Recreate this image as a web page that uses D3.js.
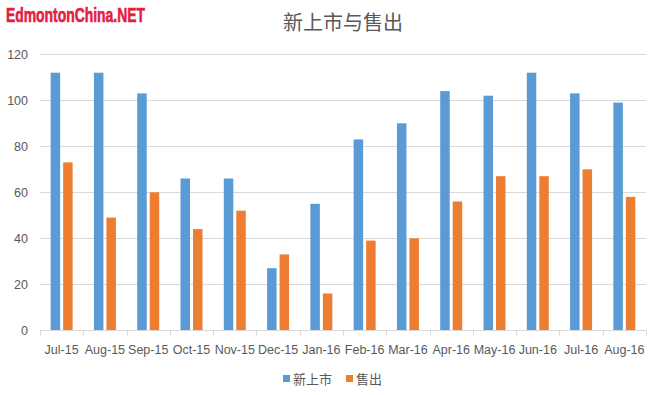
<!DOCTYPE html>
<html>
<head>
<meta charset="utf-8">
<script src="https://cdn.jsdelivr.net/npm/d3@7"></script>
<style>
  body { margin: 0; background: #fff; }
  text { font-family: "Liberation Sans", "Noto Sans CJK SC", sans-serif; }
</style>
</head>
<body>
<div id="chart"></div>
<script>
// data
var months   = ["Jul-15","Aug-15","Sep-15","Oct-15","Nov-15","Dec-15","Jan-16","Feb-16","Mar-16","Apr-16","May-16","Jun-16","Jul-16","Aug-16"];
var newList  = [112,112,103,66,66,27,55,83,90,104,102,112,103,99];
var sold     = [73,49,60,44,52,33,16,39,40,56,67,67,70,58];
var seriesNames = ["新上市","售出"];
var colors   = ["#5b9bd5","#ed7d31"];
var yTicks   = [0,20,40,60,80,100,120];

var w = 653, h = 395,
	plotLeft = 40, plotRight = 646, plotTop = 54.3, plotBottom = 330.3;

var svg = d3.select("#chart").append("svg")
	.attr("width", w)
	.attr("height", h);

// watermark
svg.append("text")
	.attr("x", 6).attr("y", 22)
	.attr("textLength", 139).attr("lengthAdjust", "spacingAndGlyphs")
	.style("font-family", "'Liberation Sans Narrow', 'Liberation Sans', sans-serif")
	.style("font-weight", "bold")
	.style("font-size", "20px")
	.style("fill", "#e3203f")
	.style("stroke", "#e3203f")
	.style("stroke-width", 0.6)
	.text("EdmontonChina.NET");

// title
svg.append("text")
	.attr("x", 343).attr("y", 30)
	.attr("text-anchor", "middle")
	.style("font-family", "'Noto Sans CJK SC', sans-serif")
	.style("font-size", "20px")
	.style("fill", "#595959")
	.text("新上市与售出");

var y = d3.scaleLinear().domain([0,120]).range([plotBottom, plotTop]);

var x0 = d3.scaleBand()
	.domain(months)
	.range([plotLeft, plotRight])
	.paddingInner(0.492)
	.paddingOuter(0.246);

var x1 = d3.scaleBand()
	.domain([0,1])
	.range([0, x0.bandwidth()])
	.paddingInner(0.24);

// gridlines
svg.append("g").selectAll("line")
	.data(yTicks.slice(1))
	.enter().append("line")
	.attr("x1", plotLeft).attr("x2", plotRight)
	.attr("y1", function(d){ return Math.round(y(d))+0.5; })
	.attr("y2", function(d){ return Math.round(y(d))+0.5; })
	.attr("stroke", "#d9d9d9").attr("stroke-width", 1);

// y labels
svg.append("g").selectAll("text")
	.data(yTicks)
	.enter().append("text")
	.attr("x", 28).attr("y", function(d){ return y(d); })
	.attr("dy", "0.35em")
	.attr("text-anchor", "end")
	.style("font-size", "12.5px")
	.style("fill", "#595959")
	.text(function(d){ return d; });

// bars
var table = months.map(function(m, i){ return {m: m, v: [newList[i], sold[i]]}; });

var groups = svg.append("g").selectAll("g")
	.data(table)
	.enter().append("g")
	.attr("transform", function(d){ return "translate(" + x0(d.m) + ",0)"; });

groups.selectAll("rect")
	.data(function(d){ return d.v; })
	.enter().append("rect")
	.attr("x", function(d,i){ return x1(i); })
	.attr("width", x1.bandwidth())
	.attr("y", function(d){ return y(d); })
	.attr("height", function(d){ return y(0) - y(d); })
	.attr("fill", function(d,i){ return colors[i]; });

// x axis line + boundary ticks
var base = Math.round(y(0)) + 0.5;
svg.append("line")
	.attr("x1", plotLeft).attr("x2", plotRight)
	.attr("y1", base).attr("y2", base)
	.attr("stroke", "#d9d9d9");

var bounds = months.map(function(m){ return x0(m) - x0.step()*x0.paddingOuter(); });
bounds.push(plotRight);
svg.append("g").selectAll("line")
	.data(bounds)
	.enter().append("line")
	.attr("x1", function(d){ return Math.round(d)+0.5; })
	.attr("x2", function(d){ return Math.round(d)+0.5; })
	.attr("y1", base).attr("y2", base + 5)
	.attr("stroke", "#d9d9d9");

// x labels
svg.append("g").selectAll("text")
	.data(months)
	.enter().append("text")
	.attr("x", function(d){ return x0(d) + x0.bandwidth()/2; })
	.attr("y", 354)
	.attr("text-anchor", "middle")
	.style("font-size", "12.5px")
	.style("fill", "#595959")
	.text(function(d){ return d; });

// legend
var legendX = [283, 346];
var legend = svg.append("g").selectAll("g")
	.data(seriesNames)
	.enter().append("g")
	.attr("transform", function(d,i){ return "translate(" + legendX[i] + ",375)"; });

legend.append("rect")
	.attr("width", 7).attr("height", 7)
	.attr("fill", function(d,i){ return colors[i]; });

legend.append("text")
	.attr("x", 10).attr("y", 4)
	.attr("dy", "0.35em")
	.style("font-family", "'Noto Sans CJK SC', sans-serif")
	.style("font-size", "13px")
	.style("fill", "#595959")
	.text(function(d){ return d; });
</script>
</body>
</html>
